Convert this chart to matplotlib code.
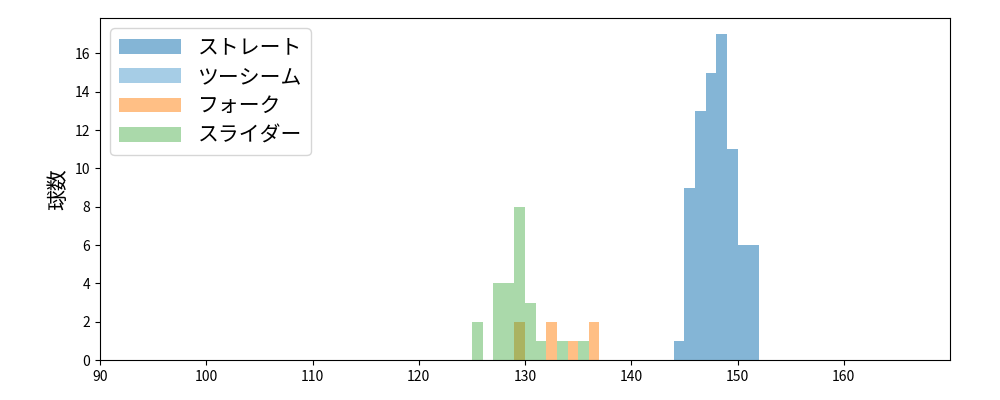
import matplotlib.pyplot as plt

plt.rcParams['font.family'] = ['Noto Sans CJK JP', 'DejaVu Sans']

# bin left edges and counts per pitch type (bin width 1 km/h)
straight_bins = [144, 145, 146, 147, 148, 149, 150, 151]
straight_counts = [1, 9, 13, 15, 17, 11, 6, 6]
two_seam_bins = []
two_seam_counts = []
fork_bins = [129, 132, 134, 136]
fork_counts = [2, 2, 1, 2]
slider_bins = [125, 127, 128, 129, 130, 131, 133, 135]
slider_counts = [2, 4, 4, 8, 3, 1, 1, 1]

labels = ['ストレート', 'ツーシーム', 'フォーク', 'スライダー']
colors = [(0.12, 0.47, 0.71, 0.55), (0.42, 0.68, 0.84, 0.6),
          (1.0, 0.5, 0.05, 0.5), (0.17, 0.63, 0.17, 0.4)]

fig = plt.figure(figsize=(10, 4), dpi=100)
ax = fig.add_axes([0.1, 0.1, 0.85, 0.855])

series = [(straight_bins, straight_counts), (two_seam_bins, two_seam_counts),
          (fork_bins, fork_counts), (slider_bins, slider_counts)]
for (bins, counts), label, color in zip(series, labels, colors):
    if bins:
        ax.bar(bins, counts, width=1, align='edge', color=color, label=label)
    else:
        ax.bar([0], [0], width=0, color=color, label=label)

ax.set_xlim(90, 170)
ax.set_xticks(range(90, 161, 10))
ax.set_ylim(0, 17.85)
ax.set_yticks(range(0, 17, 2))
ax.set_ylabel('球数', fontsize=15)
ax.tick_params(labelsize=10)
ax.legend(loc='upper left', fontsize=15, handlelength=3, labelspacing=0.35)

fig.savefig('out.png')
